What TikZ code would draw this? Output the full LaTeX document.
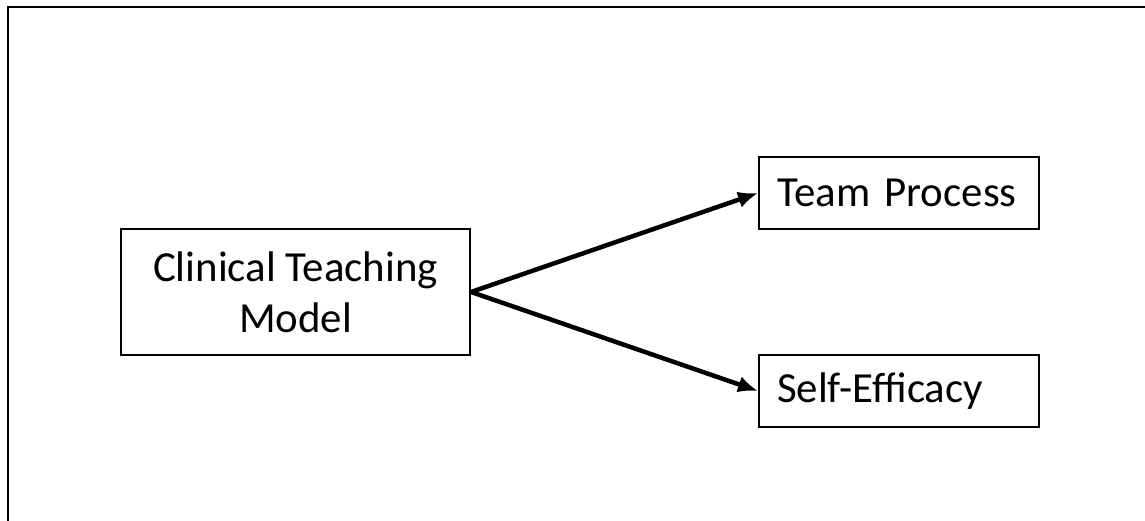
\documentclass[tikz,border=0pt]{standalone}
\usepackage{fontspec}
\setmainfont{Carlito}
\usetikzlibrary{arrows.meta}
\begin{document}
\begin{tikzpicture}[
    box/.style = {rectangle, draw, line width=1.4pt, inner xsep=0.45cm, inner ysep=0pt, font=\fontsize{30.5}{36}\selectfont},
    outbox/.style = {box, text width=6.1cm, minimum height=1.8cm, align=left},
    arrow/.style = {draw, line width=3.2pt, -{Latex[length=0.5cm,width=0.42cm]}}
]
    \useasboundingbox (0,0) rectangle (28.625,13.025);
    % outer frame, right and bottom sides fall outside the page
    \draw[line width=1.4pt] (0.2,0) |- (28.625,12.85);

    \node[box, minimum width=8.725cm, minimum height=3.15cm, align=center] (model) at (7.39, 5.725) {Clinical Teaching\\Model};
    \node[outbox] (team) at (22.475, 8.2) {Team Process};
    \node[outbox] (efficacy) at (22.475, 3.25) {Self-Efficacy};

    \path[arrow] (model.east) -- (team.west);
    \path[arrow] (model.east) -- (efficacy.west);
\end{tikzpicture}
\end{document}
